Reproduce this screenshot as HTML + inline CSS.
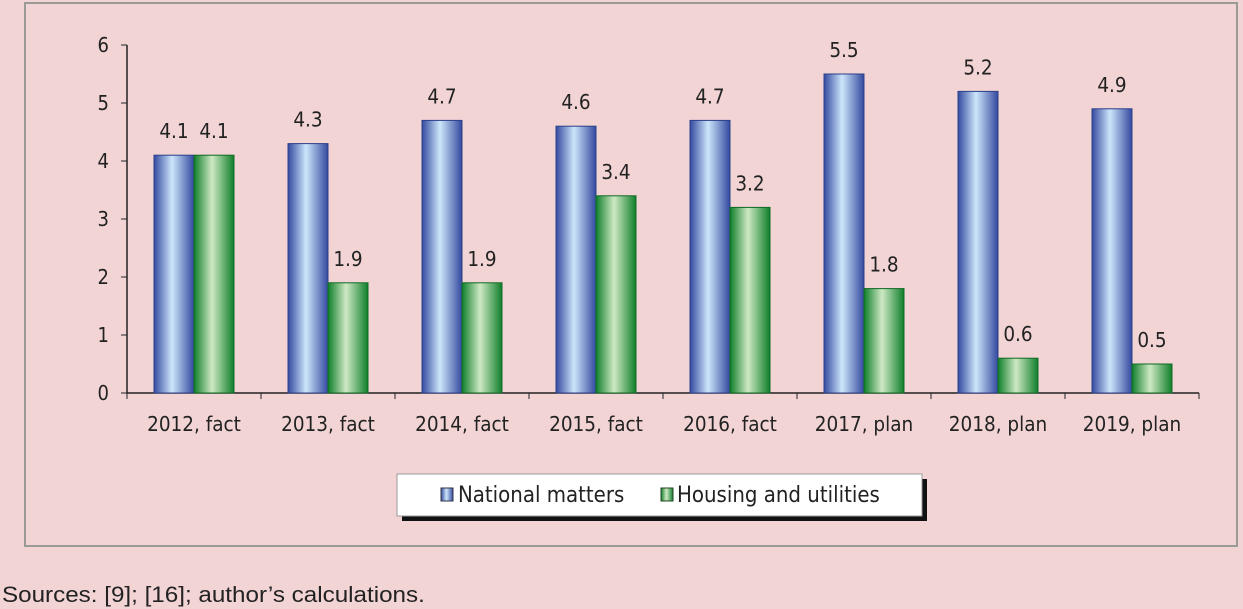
<!DOCTYPE html>
<html><head><meta charset="utf-8"><style>
body{margin:0;width:1243px;height:609px;background:#f2d4d5;font-family:"Liberation Sans",sans-serif;overflow:hidden;position:relative}
#frame{position:absolute;left:24px;top:2px;width:1214px;height:545px;border:2px solid #9a9a96;box-sizing:border-box}
#src{position:absolute;left:2px;top:582px;font-size:22px;color:#222;transform:scaleX(1.1);transform-origin:left;white-space:nowrap}
</style></head><body>
<div id="frame"></div>
<svg id="c" width="1243" height="609" style="position:absolute;left:0;top:0">
<defs>
<linearGradient id="gb" x1="0" x2="1"><stop offset="0" stop-color="#34499f"/><stop offset="0.45" stop-color="#cde6fb"/><stop offset="1" stop-color="#34499f"/></linearGradient>
<linearGradient id="gg" x1="0" x2="1"><stop offset="0" stop-color="#0f7f2a"/><stop offset="0.45" stop-color="#cfe9c4"/><stop offset="1" stop-color="#0f7f2a"/></linearGradient>
</defs>
<g id="plot"></g>
<g>
<rect x="402" y="479" width="525" height="42" fill="#111"/>
<rect x="397" y="474" width="525" height="42" fill="#fff" stroke="#999"/>
<rect x="441" y="488" width="12" height="13" fill="url(#gb)" stroke="#334"/>
<text x="458" y="502" font-size="22" fill="#222" font-family="DejaVu Sans Condensed, Liberation Sans, sans-serif">National matters</text>
<rect x="661" y="488" width="12" height="13" fill="url(#gg)" stroke="#242"/>
<text x="677" y="502" font-size="22" fill="#222" font-family="DejaVu Sans Condensed, Liberation Sans, sans-serif">Housing and utilities</text>
</g>
</svg>
<div id="src">Sources: [9]; [16]; author’s calculations.</div>
<script>
const categories=["2012, fact","2013, fact","2014, fact","2015, fact","2016, fact","2017, plan","2018, plan","2019, plan"];
const national=[4.1,4.3,4.7,4.6,4.7,5.5,5.2,4.9];
const housing=[4.1,1.9,1.9,3.4,3.2,1.8,0.6,0.5];
const yTicks=[0,1,2,3,4,5,6];
const NS="http://www.w3.org/2000/svg";
const g=document.getElementById('plot');
const x0=127,y0=393,yTop=45,yMax=6,cw=134;
const y=v=>y0-(v/yMax)*(y0-yTop);
const xc=i=>x0+cw*(i+0.5);
function mk(t,a){const e=document.createElementNS(NS,t);for(const k in a)e.setAttribute(k,a[k]);g.appendChild(e);return e;}
const F="DejaVu Sans Condensed, Liberation Sans, sans-serif";
let ax=mk('line',{x1:x0,y1:y0,x2:x0+cw*categories.length,y2:y0,stroke:'#222','stroke-width':1.5});

let ay=mk('line',{x1:x0,y1:yTop,x2:x0,y2:y0,stroke:'#222','stroke-width':1.5});

yTicks.forEach(v=>{
 mk('line',{x1:x0-6,y1:y(v),x2:x0,y2:y(v),stroke:'#222'});
 const t=mk('text',{x:x0-18,y:y(v)+7,'font-size':20,'text-anchor':'end',fill:'#222','font-family':F});
 t.textContent=v;
 
});
for(let i=0;i<=categories.length;i++)mk('line',{x1:x0+cw*i,y1:y0,x2:x0+cw*i,y2:y0+6,stroke:'#222'});
categories.forEach((c,i)=>{
 const t=mk('text',{x:xc(i),y:431,'font-size':20.5,'text-anchor':'middle',fill:'#222','font-family':F});
 t.textContent=c;
 
 [[national[i],-40,'url(#gb)','#2a3f8a','bar-national'],[housing[i],0,'url(#gg)','#0e6a24','bar-housing']].forEach(([v,dx,fill,st,nm])=>{
  const r=mk('rect',{x:xc(i)+dx,y:y(v),width:40,height:y0-y(v),fill:fill,stroke:st,'stroke-width':1});
  
  const l=mk('text',{x:xc(i)+dx+20,y:y(v)-17,'font-size':20.5,'text-anchor':'middle',fill:'#222','font-family':F});
  l.textContent=v.toFixed(1);
  
 });
});
</script>
</body></html>
